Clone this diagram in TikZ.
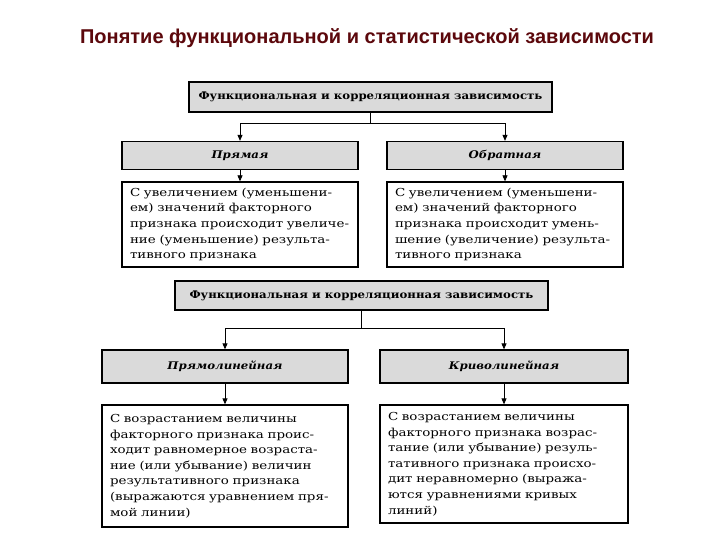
\documentclass[tikz,border=0pt]{standalone}
\usepackage{fontspec}
\setmainfont{DejaVu Serif}
\newfontfamily\titlefont{Liberation Sans}
\newfontfamily\scanfont[FakeStretch=1.12]{DejaVu Serif}
\newfontfamily\bodyfont[FakeStretch=1.22]{DejaVu Serif}
\usepackage{xcolor}
\definecolor{titlered}{RGB}{92,8,12}
\definecolor{headfill}{RGB}{218,218,218}
\usepackage{tikz}
\usetikzlibrary{arrows.meta, positioning}

\begin{document}
\begin{tikzpicture}[x=1pt, y=-1pt,
        head/.style={rectangle, draw=black, line width=1.3pt, fill=headfill, minimum width=#1, inner sep=0pt, font=\scanfont\fontsize{10.5}{12}\selectfont\bfseries},
        sub/.style={head=#1, minimum height=28pt, font=\scanfont\fontsize{10.5}{12}\selectfont\bfseries\itshape},
        txt/.style={rectangle, draw=black, line width=1.3pt, fill=white, text width=#1-16pt, inner xsep=8pt, align=left, font=\bodyfont\fontsize{11}{15.6}\selectfont},
        arrow/.style={-{Triangle[length=6pt, width=5pt]}, line width=0.8pt}
    ]
        \fill[white] (0,0) rectangle (720,540);
        \useasboundingbox (0,0) rectangle (720,540);

        \node[font=\titlefont\fontsize{20}{24}\selectfont\bfseries, text=titlered] (title) at (367,38) {Понятие функциональной и статистической зависимости};

        \node[head=363pt, minimum height=30pt] (kind) at (370.5,97) {Функциональная и корреляционная зависимость};
        \node[sub=236pt] (direct) at (240,155.5) {Прямая};
        \node[sub=236pt] (inverse) at (505,155.5) {Обратная};
        \node[txt=236pt, minimum height=85pt] (directtxt) at (240,224.5) {С увеличением (уменьшени-\\ем) значений факторного\\признака происходит увеличе-\\ние (уменьшение) результа-\\тивного признака};
        \node[txt=236pt, minimum height=85pt] (inversetxt) at (505,224.5) {С увеличением (уменьшени-\\ем) значений факторного\\признака происходит умень-\\шение (увеличение) результа-\\тивного признака};

        \node[head=373pt, minimum height=29pt] (form) at (361.5,295.5) {Функциональная и корреляционная зависимость};
        \node[sub=246pt, minimum height=33pt] (linear) at (225,366.5) {Прямолинейная};
        \node[sub=248pt, minimum height=33pt] (curved) at (504,366.5) {Криволинейная};
        \node[txt=246pt, minimum height=122pt] (lineartxt) at (225,466) {С возрастанием величины\\факторного признака проис-\\ходит равномерное возраста-\\ние (или убывание) величин\\результативного признака\\(выражаются уравнением пря-\\мой линии)};
        \node[txt=248pt, minimum height=118pt] (curvedtxt) at (504,464) {С возрастанием величины\\факторного признака возрас-\\тание (или убывание) резуль-\\тативного признака происхо-\\дит неравномерно (выража-\\ются уравнениями кривых\\линий)};

        \draw[arrow] (kind.south) -- ++(0,11) -| (direct.north);
        \draw[arrow] (kind.south) -- ++(0,11) -| (inverse.north);
        \draw[arrow] (direct) -- (directtxt);
        \draw[arrow] (inverse) -- (inversetxt);
        \draw[arrow] (form.south) -- ++(0,18) -| (linear.north);
        \draw[arrow] (form.south) -- ++(0,18) -| (curved.north);
        \draw[arrow] (linear) -- (lineartxt);
        \draw[arrow] (curved) -- (curvedtxt);
    \end{tikzpicture}
\end{document}
